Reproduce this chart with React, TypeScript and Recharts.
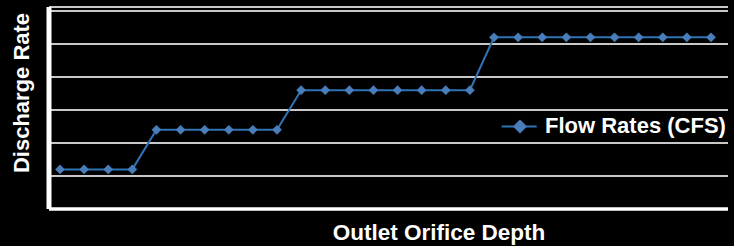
import React from 'react';
import { LineChart, Line, XAxis, YAxis, CartesianGrid } from 'recharts';

const depths: string[] = Array.from({ length: 28 }, (_, i) => `D${i + 1}`);
const flowRates: number[] = [
  1.2, 1.2, 1.2, 1.2,
  2.4, 2.4, 2.4, 2.4, 2.4, 2.4,
  3.6, 3.6, 3.6, 3.6, 3.6, 3.6, 3.6, 3.6,
  5.2, 5.2, 5.2, 5.2, 5.2, 5.2, 5.2, 5.2, 5.2, 5.2,
];
const yTicks: number[] = [0, 1, 2, 3, 4, 5, 6];

const data = depths.map((d, i) => ({ depth: d, flow: flowRates[i] }));

const FONT = '"Liberation Sans", Arial, Helvetica, sans-serif';
const LINE_COLOR = '#2e74b5';
const MARKER_COLOR = '#4a7ebb';

const Diamond = (props: any) => {
  const { cx, cy, index } = props;
  if (cx == null || cy == null) return <g key={index} />;
  const r = 4.6;
  return (
    <path
      key={index}
      d={`M${cx},${cy - r} L${cx + r},${cy} L${cx},${cy + r} L${cx - r},${cy} Z`}
      fill={MARKER_COLOR}
      stroke={MARKER_COLOR}
      strokeWidth={0.5}
    />
  );
};

const NoTick = () => <g />;

export default function App() {
  return (
    <div style={{ position: 'absolute', left: 0, top: 0, width: 734, height: 246, background: '#000' }}>
      <LineChart
        width={734}
        height={246}
        data={data}
        margin={{ top: 7, right: 6, bottom: 0, left: 48 }}
      >
        <CartesianGrid horizontal vertical={false} stroke="#c8c8c8" strokeWidth={2} />
        <XAxis
          dataKey="depth"
          height={37}
          tick={NoTick}
          tickLine={false}
          padding={{ left: 11, right: 17 }}
          axisLine={{ stroke: '#ffffff', strokeWidth: 3.5 }}
          label={() => (
            <text
              x={439}
              y={240}
              textAnchor="middle"
              fill="#ffffff"
              fontFamily={FONT}
              fontWeight="bold"
              fontSize={22.5}
            >
              Outlet Orifice Depth
            </text>
          )}
        />
        <YAxis
          width={1}
          domain={[0, 6.12]}
          ticks={yTicks}
          tick={NoTick}
          tickLine={false}
          axisLine={{ stroke: '#ffffff', strokeWidth: 5 }}
          label={() => (
            <text
              x={29}
              y={93}
              transform="rotate(-90 29 93)"
              textAnchor="middle"
              fill="#ffffff"
              fontFamily={FONT}
              fontWeight="bold"
              fontSize={22}
            >
              Discharge Rate
            </text>
          )}
        />
        <Line
          type="linear"
          dataKey="flow"
          name="Flow Rates (CFS)"
          stroke={LINE_COLOR}
          strokeWidth={2}
          dot={Diamond}
          activeDot={false}
          isAnimationActive={false}
        />
      </LineChart>
      <svg
        width={240}
        height={30}
        style={{ position: 'absolute', left: 495, top: 112 }}
      >
        <line x1={6.7} y1={14.5} x2={41.7} y2={14.5} stroke={LINE_COLOR} strokeWidth={2} />
        <path d="M25,7.5 L32,14.5 L25,21.5 L18,14.5 Z" fill={MARKER_COLOR} />
        <text x={50} y={21.3} fill="#ffffff" fontFamily={FONT} fontWeight="bold" fontSize={22}>
          Flow Rates (CFS)
        </text>
      </svg>
    </div>
  );
}
